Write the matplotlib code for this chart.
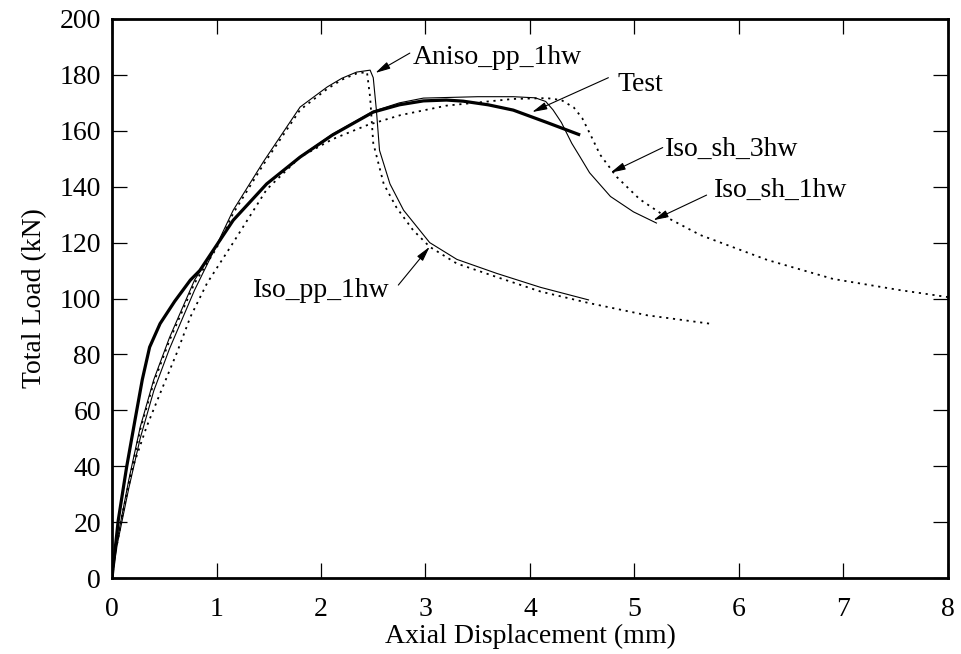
import matplotlib
matplotlib.use("Agg")
import matplotlib.pyplot as plt

plt.rcParams['font.family'] = ['Liberation Serif', 'DejaVu Serif']

# ---- data ----
test_x = [0, 0.06, 0.14, 0.22, 0.29, 0.36, 0.46, 0.6, 0.75, 0.84, 1.0, 1.16, 1.48, 1.8, 2.11, 2.5, 2.75, 2.98, 3.2, 3.36, 3.6, 3.84, 4.16, 4.48]
test_y = [0, 20.7, 39.7, 56.5, 71, 82.6, 91, 99, 106.6, 110, 119, 128, 141, 150.6, 158.5, 166.7, 169.3, 170.7, 171, 170.6, 169.3, 167.4, 163, 158.5]

aniso_pp_x = [0, 0.05, 0.16, 0.27, 0.4, 0.55, 0.79, 1.0, 1.16, 1.45, 1.8, 2.06, 2.2, 2.34, 2.47, 2.5, 2.53, 2.56, 2.66, 2.79, 3.04, 3.3, 3.68, 4.1, 4.56]
aniso_pp_y = [0, 13.6, 35, 54, 71, 86, 106.6, 119, 131.6, 149, 168.5, 175.7, 178.8, 181, 181.7, 179, 167.4, 153, 141, 131.6, 120, 114, 109, 104, 99.5]

iso_pp_x = [0, 0.05, 0.16, 0.27, 0.4, 0.55, 0.79, 1.0, 1.16, 1.45, 1.8, 2.06, 2.2, 2.34, 2.44, 2.47, 2.5, 2.6, 2.72, 2.88, 3.04, 3.3, 3.68, 4.1, 4.56, 5.12, 5.72]
iso_pp_y = [0, 13, 34, 53, 70, 85, 105.5, 118, 130.5, 148, 167.5, 175, 178.3, 180.5, 181, 172, 155.6, 141, 132.7, 124.5, 118.5, 112.5, 107.7, 102.5, 98.4, 94, 91]

iso_sh1_x = [0, 0.05, 0.16, 0.27, 0.4, 0.55, 0.79, 1.0, 1.16, 1.48, 1.8, 2.11, 2.5, 2.75, 2.98, 3.5, 3.84, 4.05, 4.15, 4.22, 4.3, 4.4, 4.48, 4.57, 4.77, 4.99, 5.21]
iso_sh1_y = [0, 12, 32, 50, 67, 82, 103, 119, 128, 141, 150.8, 158.8, 167, 170, 171.7, 172.2, 172.2, 171.8, 170.5, 167.5, 163, 155.5, 150.6, 145, 136.5, 131, 127]

iso_sh3_x = [0, 0.01, 0.1, 0.2, 0.33, 0.46, 0.62, 0.75, 0.91, 1.16, 1.48, 1.8, 2.11, 2.44, 2.76, 3.2, 3.84, 4.16, 4.3, 4.42, 4.5, 4.58, 4.67, 4.83, 5.05, 5.31, 5.63, 6.27, 6.9, 7.54, 8.0]
iso_sh3_y = [0, 4, 23, 39.7, 54, 66, 80.5, 93.4, 105.5, 120, 139, 150.6, 157, 162, 165.6, 169, 171.4, 171.7, 171, 168.3, 164.5, 158.5, 151.5, 143.5, 135.5, 129, 122.7, 113.8, 107, 103, 100.5]

x_ticks = [0, 1, 2, 3, 4, 5, 6, 7, 8]
y_ticks = [0, 20, 40, 60, 80, 100, 120, 140, 160, 180, 200]

FS = 20

fig = plt.figure(figsize=(9.62, 6.54), dpi=100)
ax = fig.add_axes([112/962, 76/654, 836/962, 559/654])

dot = (0, (1.2, 2.6))
ax.plot(aniso_pp_x, aniso_pp_y, color='black', lw=0.8)
ax.plot(iso_pp_x, iso_pp_y, color='black', lw=1.3, linestyle=dot)
ax.plot(iso_sh1_x, iso_sh1_y, color='black', lw=0.8)
ax.plot(iso_sh3_x, iso_sh3_y, color='black', lw=1.3, linestyle=dot)
ax.plot(test_x, test_y, color='black', lw=2.3, solid_capstyle='butt')

ax.set_xlim(0, 8)
ax.set_ylim(0, 200)
ax.set_xticks(x_ticks)
ax.set_yticks(y_ticks)
ax.tick_params(direction='in', length=11, width=0.9, top=True, right=True, labelsize=FS)
ax.tick_params(axis='x', pad=14)
ax.tick_params(axis='y', pad=8)
for s in ax.spines.values():
    s.set_linewidth(2.0)

ax.set_xlabel('Axial Displacement (mm)', fontsize=FS, labelpad=1)
ax.set_ylabel('Total Load (kN)', fontsize=FS, labelpad=9)

ap = dict(arrowstyle='-|>,head_length=0.9,head_width=0.22', color='black', lw=0.8, shrinkA=0, shrinkB=0)
def label(text, tx, ty, tail, tip):
    ax.text(tx, ty, text, fontsize=FS, ha='left', va='center')
    ax.annotate('', xy=tip, xytext=tail, arrowprops=ap)

label('Aniso_pp_1hw', 2.88, 186.4, (2.85, 187.8), (2.52, 180.7))
label('Test', 4.84, 176.7, (4.75, 179), (4.02, 166.7))
label('Iso_sh_3hw', 5.29, 153.5, (5.27, 154), (4.77, 145))
label('Iso_sh_1hw', 5.76, 138.8, (5.69, 137), (5.18, 128))
label('Iso_pp_1hw', 1.35, 103, (2.74, 104.8), (3.04, 118.5))

fig.savefig('out.png', dpi=100)
